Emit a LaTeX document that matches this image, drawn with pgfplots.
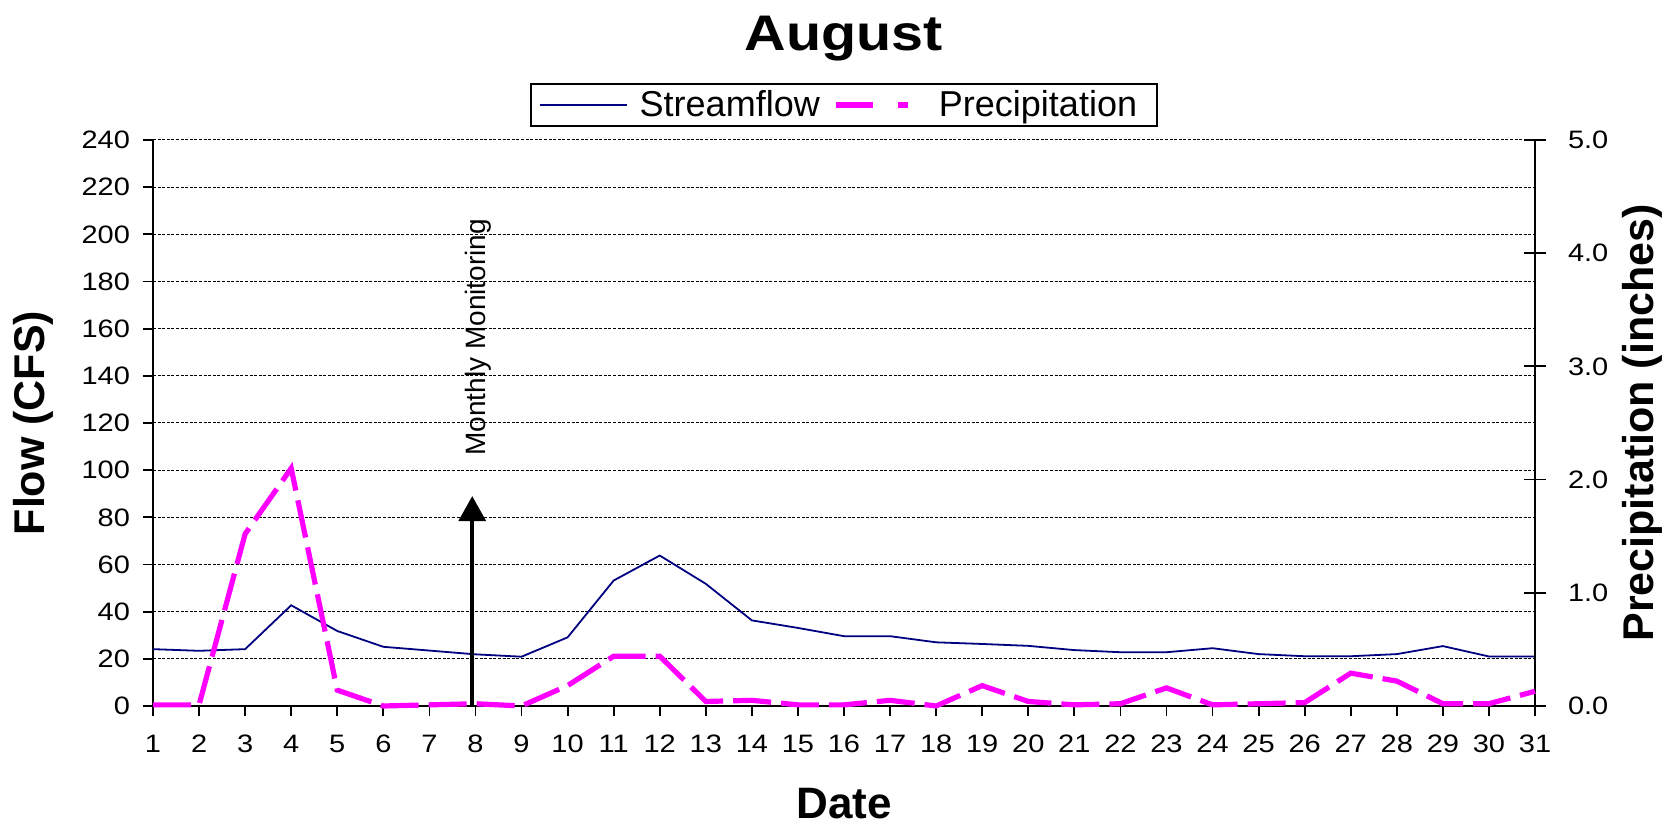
\documentclass[border=0pt]{standalone}
\usepackage{pgfplots}
\usepackage{pgfplotstable}
\pgfplotsset{compat=1.18}
\usepackage{fontspec}
\setmainfont{Liberation Sans}
\newfontfamily\widefont[FakeStretch=1.15]{Liberation Sans}
\usetikzlibrary{arrows.meta}
\definecolor{navyline}{RGB}{0,0,128}
\definecolor{magline}{RGB}{255,0,255}

\pgfplotstableread{
day flow
1 24.1
2 23.4
3 24.1
4 42.7
5 31.8
6 25.1
7 23.5
8 21.9
9 20.9
10 29.1
11 53.2
12 63.8
13 51.8
14 36.3
15 33.1
16 29.6
17 29.6
18 27.0
19 26.3
20 25.5
21 23.7
22 22.8
23 22.8
24 24.5
25 22.0
26 21.1
27 21.1
28 22.0
29 25.4
30 21.0
31 21.0
}\flowtable

\pgfplotstableread{
day precip
1 0.01
2 0.01
3 1.52
4 2.10
5 0.14
6 0.00
7 0.01
8 0.02
9 0.00
10 0.18
11 0.44
12 0.44
13 0.04
14 0.05
15 0.01
16 0.01
17 0.05
18 0.00
19 0.18
20 0.04
21 0.01
22 0.02
23 0.16
24 0.01
25 0.02
26 0.03
27 0.29
28 0.22
29 0.02
30 0.02
31 0.13
}\preciptable

\begin{document}
\begin{tikzpicture}
\useasboundingbox (0,0) rectangle (838.5pt,414pt);
\begin{axis}[
  at={(76.5pt,61pt)}, anchor=south west,
  scale only axis, width=691pt, height=283pt,
  xmin=1, xmax=31, ymin=0, ymax=240,
  axis x line=bottom, axis y line=left,
  axis line style={line width=0.9pt, -},
  xtick={1,...,31}, ytick={0,20,...,240},
  tick align=outside, major tick length=5pt,
  tick style={black, line width=0.9pt},
  ymajorgrids,
  major grid style={black, line width=0.5pt, dash pattern=on 1.5pt off 0.8pt},
  /pgf/number format/assume math mode=true,
  ticklabel style={font=\widefont\fontsize{12.6}{14}\selectfont},
  xticklabel style={yshift=-6pt},
  yticklabel style={xshift=-3pt},
  xlabel={Date}, ylabel={Flow (CFS)},
  xlabel style={font=\bfseries\fontsize{22}{24}\selectfont, at={(axis description cs:0.5,-0.1731)}, anchor=center},
  ylabel style={font=\bfseries\fontsize{21.5}{24}\selectfont, at={(axis description cs:-0.0868,0.5)}, anchor=center},
  title={August},
  title style={font=\widefont\bfseries\fontsize{25}{28}\selectfont, at={(axis description cs:0.5,1)}, anchor=base, yshift=38.5pt},
]
\addplot[navyline, line width=0.9pt] table[x=day,y=flow]{\flowtable};
\end{axis}
\begin{axis}[
  at={(76.5pt,61pt)}, anchor=south west,
  scale only axis, width=691pt, height=283pt,
  xmin=1, xmax=31, ymin=0, ymax=5,
  axis x line=none, axis y line=right,
  axis line style={line width=0.9pt, -},
  ytick={0,...,5},
  tick align=center, major tick length=11pt,
  tick style={black, line width=0.9pt},
  /pgf/number format/assume math mode=true,
  yticklabel style={font=\widefont\fontsize{12.6}{14}\selectfont, /pgf/number format/fixed, /pgf/number format/fixed zerofill, /pgf/number format/precision=1, xshift=7.5pt},
  ylabel={Precipitation (inches)},
  ylabel style={font=\bfseries\fontsize{21.5}{24}\selectfont, at={(axis description cs:1.0774,0.5)}, anchor=center, rotate=0},
  clip=false,
  legend columns=2,
  legend cell align=left,
  legend style={at={(axis description cs:0.5,1)}, anchor=south, yshift=6.5pt, draw=black, line width=0.8pt, fill=white,
    font=\fontsize{18}{20}\selectfont, inner xsep=4pt, inner ysep=2.8pt,
    nodes={inner xsep=6pt, inner ysep=0.5pt},
    /tikz/every even column/.append style={column sep=1pt}},
]
\addlegendimage{legend image code/.code={\draw[navyline, line width=0.9pt] (0pt,0pt) -- (43.5pt,0pt);}}
\addlegendentry{Streamflow}
\addplot[magline, line width=2.6pt, dash pattern=on 19pt off 5pt,
  legend image code/.code={\draw[magline, line width=2.6pt, dash pattern=on 18.5pt off 12.5pt on 5pt off 20pt] (0pt,0pt) -- (44pt,0pt);}]
  table[x=day,y=precip]{\preciptable};
\addlegendentry{Precipitation}
\addplot[black, line width=1.75pt, -{Triangle[width=13.5pt,length=12.5pt]}, forget plot] coordinates {(7.93,0) (7.93,1.854)};
\node[rotate=90, anchor=west, inner sep=0pt, font=\fontsize{14}{16}\selectfont] at (axis cs:8.05,2.208) {Monthly Monitoring};
\end{axis}
\end{tikzpicture}
\end{document}
